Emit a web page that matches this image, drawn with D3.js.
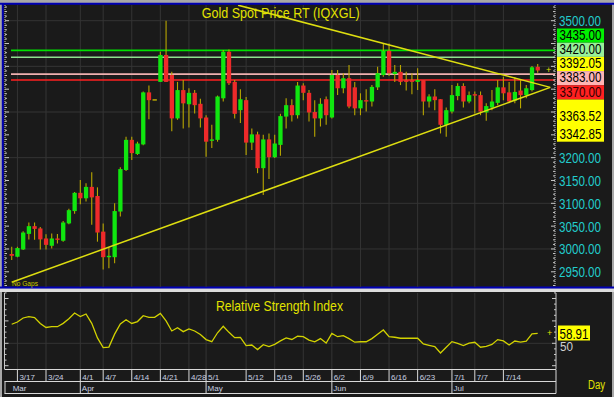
<!DOCTYPE html>
<html><head><meta charset="utf-8">
<script src="https://cdn.jsdelivr.net/npm/d3@7"></script>
<style>
html,body{margin:0;padding:0;background:#a8a8a8;}
svg{display:block;font-family:"Liberation Sans",Arial,sans-serif;}
</style></head><body>
<svg width="614" height="397"></svg>
<script>
// daily candles, 3/14 .. 7/22 (index 0..92)
const open = [2989,2983,2999,3033,3050,3045,3023,3007,3023,3018, 3056,3083,3123,3111,3136,3116,3038,2982,2982,3082,
  3173,3239,3208,3229,3343,3328,3366,3425,3381,3286, 3348,3317,3342,3318,3288,3237,3239,3330,3432,3366,
  3304,3326,3233,3251,3177,3240,3201,3228,3290,3315, 3293,3358,3342,3300,3286,3328,3288,3381,3352,3374,
  3354,3308,3326,3323,3354,3381,3434,3383,3388,3370, 3370,3366,3370,3323,3334,3328,3272,3301,3335,3357,
  3323,3339,3337,3299,3310,3320,3354,3343,3325,3347, 3337,3348,3399];
const close = [2985,3002,3036,3050,3044,3021,3009,3023,3020,3058, 3085,3123,3111,3136,3113,3036,2982,2985,3083,3175,
  3239,3210,3231,3343,3326,3328,3425,3366,3286,3348, 3319,3342,3315,3286,3235,3240,3334,3432,3363,3296,
  3328,3233,3251,3177,3240,3201,3231,3291,3315,3293, 3358,3342,3299,3286,3318,3293,3381,3352,3374,3312,
  3308,3326,3323,3355,3385,3434,3385,3388,3366,3366, 3366,3370,3323,3334,3326,3272,3304,3337,3357,3323,
  3337,3336,3301,3313,3323,3354,3341,3323,3344,3337, 3352,3398,3391];
const high = [3005,3005,3039,3058,3058,3048,3032,3034,3033,3061, 3088,3125,3151,3144,3168,3135,3056,3004,3100,3179,
  3246,3246,3235,3345,3358,3328,3432,3500,3388,3366, 3370,3352,3348,3329,3293,3272,3336,3436,3437,3370,
  3350,3333,3264,3257,3250,3253,3250,3296,3330,3328, 3366,3363,3348,3326,3330,3334,3392,3392,3385,3403,
  3366,3341,3350,3359,3399,3450,3450,3403,3403,3388, 3385,3396,3370,3339,3350,3328,3310,3359,3363,3363,
  3345,3345,3345,3319,3348,3370,3377,3366,3376,3370, 3359,3401,3405];
const low = [2976,2982,2998,3021,3020,2999,2999,3001,3012,3016, 3054,3077,3098,3104,3053,3016,2955,2958,2969,3071,
  3171,3195,3206,3227,3284,3328,3366,3366,3258,3283, 3264,3266,3297,3266,3202,3221,3235,3323,3359,3286,
  3276,3206,3217,3166,3118,3153,3199,3204,3264,3279, 3286,3326,3279,3246,3268,3272,3286,3337,3341,3308,
  3293,3293,3301,3312,3348,3377,3379,3366,3359,3347, 3339,3348,3293,3310,3304,3253,3246,3297,3326,3310,
  3319,3297,3293,3281,3304,3315,3326,3319,3319,3308, 3330,3345,3386];
const rsi = [67.0,69.0,72.6,73.8,73.0,67.7,64.1,64.8,64.8,67.8, 71.9,77.0,73.9,76.2,67.8,54.8,46.2,46.6,58.2,67.2,
  71.0,67.7,69.4,74.6,73.2,73.2,76.7,70.0,61.0,63.9, 60.4,62.9,61.0,57.8,53.3,51.4,59.4,65.2,59.8,55.0,
  55.3,47.9,48.5,44.4,48.8,47.1,49.0,52.2,54.8,53.4, 56.3,56.0,52.9,51.3,54.2,50.2,58.8,55.9,56.8,54.2,
  51.0,51.4,51.4,54.2,58.0,61.9,55.9,55.4,54.5,54.5, 54.5,54.5,49.5,48.2,47.0,41.3,46.5,51.5,50.0,47.9,
  50.1,50.9,46.5,47.3,49.0,53.3,52.1,48.5,52.0,51.0, 52.0,58.5,58.9];

const dayTicks = ['3/17','3/24','4/1','4/7','4/14','4/21','4/28','5/1','5/12','5/19','5/26','6/2','6/9','6/16','6/23','7/1','7/7','7/14'];
const dayTickIdx = [1,6,12,16,21,26,31,34,41,46,51,56,61,66,71,77,81,86];
const months = ['Mar','Apr','May','Jun','Jul'];
const monthIdx = [-0.1,12,34,56,77];

const levels = [3435, 3420, 3383, 3370];
const levelColors = ['#00e000', '#8ee08e', '#f0b0b0', '#ff2020'];
const tags = ['3435.00','3420.00','3392.05','3383.00','3370.00','3363.52','3342.85'];
const tagColors = ['#00f000','#98f098','#ffff00','#ffb4b4','#ff2020','#ffff00','#ffff00'];
const priceLabels = [3500, 3200, 3150, 3100, 3050, 3000, 2950];
const trendLines = [[[0, 2927], [94.2, 3354]], [[39.6, 3534], [94.2, 3354]]];
const lastRsi = '58.91';

const svg = d3.select('svg');
const bg = '#1a1a1a', grid = '#343434', axisCol = '#c8c8c8', yellow = '#e2e200', dateCol = '#c8d0e0';
const plotL = 5, plotR = 555, mainT = 5, mainB = 287, rsiT = 293, rsiB = 369;

const x = d3.scaleLinear().domain([0, 92]).range([11.7, 537.7]);
const y = d3.scaleLinear().domain([2950, 3500]).range([271.8, 20.7]);
const yr = d3.scaleLinear().domain([50, 90]).range([343.3, 298.5]);

function label(g, px, py, txt, size, fill, len) {
  const t = g.append('text').attr('x', px).attr('y', py).attr('font-size', size)
    .attr('fill', fill).text(txt);
  if (len) t.attr('textLength', len).attr('lengthAdjust', 'spacingAndGlyphs');
  return t;
}

// frame
svg.append('rect').attr('width', 614).attr('height', 397).attr('fill', '#a8a8a8');
svg.append('rect').attr('x', 2).attr('y', 3).attr('width', 610).attr('height', 285).attr('fill', bg);
svg.append('rect').attr('x', 2).attr('y', 292).attr('width', 610).attr('height', 105).attr('fill', bg);
svg.append('rect').attr('x', 0).attr('y', 288.5).attr('width', 614).attr('height', 3.5).attr('fill', '#dcdcdc');
svg.append('line').attr('x1', 0).attr('x2', 614).attr('y1', 3.7).attr('y2', 3.7).attr('stroke', '#0000b4').attr('stroke-width', 2);
svg.append('line').attr('x1', 2.8).attr('x2', 2.8).attr('y1', 3).attr('y2', 288).attr('stroke', '#0000b4').attr('stroke-width', 2);
svg.append('line').attr('x1', 0).attr('x2', 614).attr('y1', 287.6).attr('y2', 287.6).attr('stroke', '#0000b4').attr('stroke-width', 2);

const defs = svg.append('defs');
defs.append('clipPath').attr('id', 'cm').append('rect')
  .attr('x', plotL).attr('y', mainT).attr('width', plotR - plotL).attr('height', mainB - mainT);
defs.append('clipPath').attr('id', 'cr').append('rect')
  .attr('x', plotL).attr('y', rsiT).attr('width', plotR - plotL).attr('height', rsiB - rsiT);

// grids
const main = svg.append('g').attr('clip-path', 'url(#cm)');
main.selectAll('.hg').data(d3.range(3000, 3501, 100)).enter().append('line')
  .attr('x1', plotL).attr('x2', plotR).attr('y1', d => y(d)).attr('y2', d => y(d))
  .attr('stroke', grid);
main.selectAll('.vg').data(dayTickIdx).enter().append('line')
  .attr('x1', d => x(d)).attr('x2', d => x(d)).attr('y1', mainT).attr('y2', mainB)
  .attr('stroke', grid);

// horizontal levels
main.selectAll('.lv').data(levels).enter().append('line')
  .attr('x1', 11).attr('x2', plotR).attr('y1', d => y(d)).attr('y2', d => y(d))
  .attr('stroke', (d, i) => levelColors[i]).attr('stroke-width', 1.6);

// candles
const idx = d3.range(open.length);
main.selectAll('.wick').data(idx).enter().append('line')
  .attr('x1', i => x(i)).attr('x2', i => x(i))
  .attr('y1', i => y(high[i])).attr('y2', i => y(low[i]))
  .attr('stroke', '#b8a600').attr('stroke-width', 1.1);
main.selectAll('.body').data(idx).enter().append('rect')
  .attr('x', i => x(i) - 2.1).attr('width', 4.3)
  .attr('y', i => y(Math.max(open[i], close[i])))
  .attr('height', i => Math.max(1.4, Math.abs(y(open[i]) - y(close[i]))))
  .attr('fill', i => close[i] > open[i] ? '#10e610' : close[i] < open[i] ? '#ee2a2a' : '#c8b400');

// trend lines
main.selectAll('.tl').data(trendLines).enter().append('line')
  .attr('x1', d => x(d[0][0])).attr('y1', d => y(d[0][1]))
  .attr('x2', d => x(d[1][0])).attr('y2', d => y(d[1][1]))
  .attr('stroke', '#dede10').attr('stroke-width', 1.5);

label(svg, 546, y(close[92]) + 3, '+', 9, yellow);
label(svg, 201.7, 18, 'Gold Spot Price RT (IQXGL)', 15, yellow, 158);
label(svg, 12, 286, 'No Gaps', 8, '#c8c800', 26);

// price axes (left unlabeled, right labeled)
function priceAxis(px, dir) {
  const g = svg.append('g');
  g.append('line').attr('x1', px).attr('x2', px).attr('y1', mainT).attr('y2', mainB)
    .attr('stroke', axisCol).attr('stroke-dasharray', '1,1');
  g.selectAll('line.t').data(d3.range(2920, 3531, 10)).enter().append('line')
    .attr('x1', px).attr('x2', d => px + dir * (d % 50 === 0 ? 4 : 2))
    .attr('y1', d => y(d)).attr('y2', d => y(d)).attr('stroke', axisCol);
}
priceAxis(5, 1);
priceAxis(555, -1);

priceLabels.forEach(p => label(svg, 559, y(p) + 5.5, d3.format('.2f')(p), 14.5, '#22cccc', 42));

const tagG = svg.append('g');
const tagTop = [28.5, 42.7, 56.9, 71.1, 85.3, 99.5, 124];
const tagBot = [42.7, 56.9, 71.1, 85.3, 99.5, 124, 141.7];
tags.forEach((t, i) => {
  tagG.append('rect').attr('x', 557).attr('y', tagTop[i]).attr('width', 47)
    .attr('height', tagBot[i] - tagTop[i]).attr('fill', tagColors[i]);
  label(tagG, 559.5, tagBot[i] - 3, t, 14, i === 4 ? '#300000' : '#000', 42);
});

// RSI panel
const rs = svg.append('g').attr('clip-path', 'url(#cr)');
rs.append('line').attr('x1', plotL).attr('x2', plotR).attr('y1', yr(50)).attr('y2', yr(50)).attr('stroke', grid);
rs.selectAll('.vg').data(dayTickIdx).enter().append('line')
  .attr('x1', d => x(d)).attr('x2', d => x(d)).attr('y1', rsiT).attr('y2', rsiB)
  .attr('stroke', grid);
rs.append('path').datum(rsi)
  .attr('d', d3.line().x((d, i) => x(i)).y(d => yr(d)))
  .attr('fill', 'none').attr('stroke', '#d2d200').attr('stroke-width', 1.3);

function rsiAxis(px, dir) {
  const g = svg.append('g');
  g.append('line').attr('x1', px).attr('x2', px).attr('y1', rsiT).attr('y2', rsiB)
    .attr('stroke', axisCol);
  g.selectAll('line.t').data(d3.range(30, 96, 5)).enter().append('line')
    .attr('x1', px).attr('x2', d => px + dir * (d % 20 === 10 ? 4 : 2))
    .attr('y1', d => yr(d)).attr('y2', d => yr(d)).attr('stroke', axisCol);
}
rsiAxis(4.5, 1);
rsiAxis(556, -1);

label(svg, 216, 310.5, 'Relative Strength Index', 15, yellow, 127);
label(svg, 560, 351, '50', 12, '#d0d0d0', 13);
svg.append('rect').attr('x', 558).attr('y', 325.5).attr('width', 32).attr('height', 15).attr('fill', '#ffff00');
label(svg, 559.5, 338.5, lastRsi, 14, '#000', 29);
label(svg, 547, yr(rsi[92]) + 3, '+', 9, yellow);

// date rows
const dg = svg.append('g').attr('stroke', '#d8d8d8');
[369.5, 381.5, 393.5].forEach(v => dg.append('line').attr('x1', 4.5).attr('x2', 556).attr('y1', v).attr('y2', v));
dg.append('line').attr('x1', 5).attr('x2', 5).attr('y1', 381.5).attr('y2', 393.5);
dg.append('line').attr('x1', 556).attr('x2', 556).attr('y1', 369.5).attr('y2', 393.5);
dg.selectAll('.ds').data(dayTickIdx).enter().append('line')
  .attr('x1', d => x(d)).attr('x2', d => x(d)).attr('y1', 369.5).attr('y2', 381.5);
dg.selectAll('.ms').data(monthIdx.slice(1)).enter().append('line')
  .attr('x1', d => x(d)).attr('x2', d => x(d)).attr('y1', 381.5).attr('y2', 393.5);

dayTicks.forEach((t, i) => label(svg, x(dayTickIdx[i]) + 2, 379.5, t, 8, dateCol));
months.forEach((m, i) => label(svg, x(monthIdx[i]) + 1.5, 391, m, 8, dateCol));
label(svg, 588, 388.5, 'Day', 12, yellow, 17);
</script>
</body></html>
